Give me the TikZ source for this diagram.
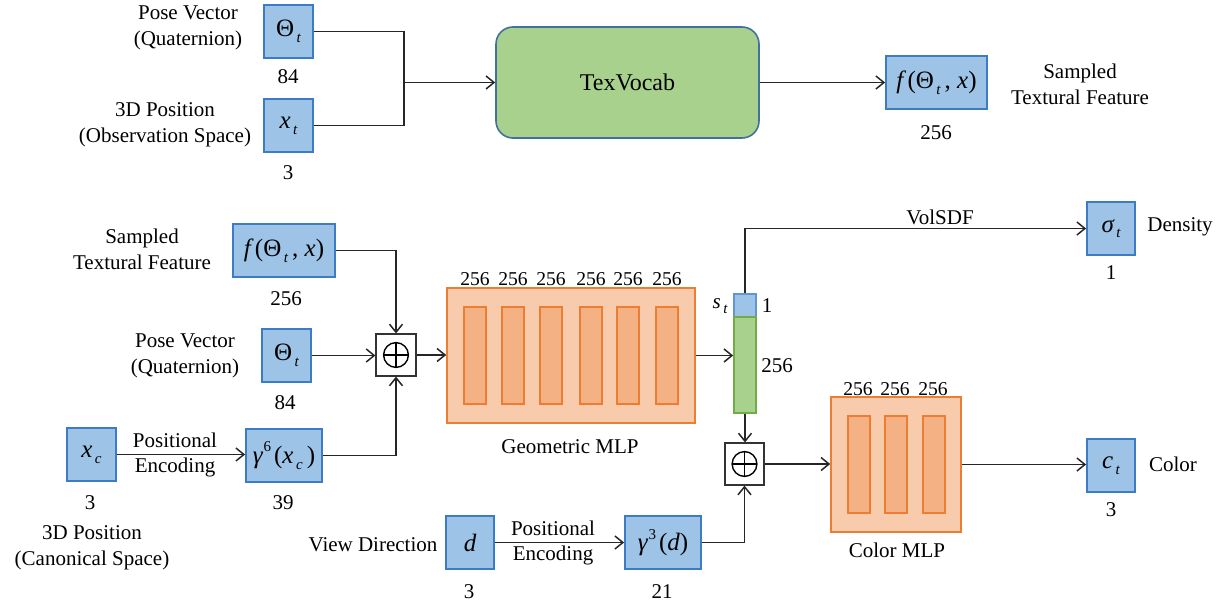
\documentclass[tikz,border=0pt]{standalone}
\usepackage{fontspec}
\setmainfont{Liberation Serif}
\usetikzlibrary{arrows.meta}
\definecolor{bfill}{HTML}{9DC3E6}
\definecolor{bdraw}{HTML}{3B7CC4}
\definecolor{gfill}{HTML}{A9D18E}
\definecolor{gdraw}{HTML}{70AD47}
\definecolor{ofill}{HTML}{F8CBAD}
\definecolor{obar}{HTML}{F4B183}
\definecolor{odraw}{HTML}{ED7D31}
\definecolor{tdraw}{HTML}{41719C}
\newcommand\lblfont{\fontsize{10.5}{13}\selectfont}
\newcommand\mfont{\fontsize{12.5}{14}\selectfont}
\newcommand\numfont{\fontsize{9.8}{11}\selectfont}
\newcommand\msub[1]{\raisebox{-0.5ex}{\fontsize{7.5}{8}\selectfont\itshape\,#1}}
\newcommand\msup[1]{\raisebox{1.0ex}{\fontsize{7.5}{8}\selectfont\kern0.5pt #1\kern1.5pt}}
\tikzset{
  vbox/.style={draw=bdraw, fill=bfill, line width=0.9pt, inner sep=0pt, font=\mfont},
  lbl/.style={inner sep=0pt, align=center, font=\lblfont},
  num/.style={inner sep=0pt, font=\numfont},
  conn/.style={line width=0.75pt, draw=black!85},
  arr/.style={conn, -{Straight Barb[length=4pt,width=6.5pt]}},
  plusbox/.style={draw=black!80, fill=white, line width=0.6pt, inner sep=0pt, minimum width=20pt, minimum height=21pt},
  mlp/.style={draw=odraw, fill=ofill, line width=0.8pt, inner sep=0pt},
  mlpbar/.style={draw=odraw, fill=obar, line width=0.8pt},
}
\begin{document}
\begin{tikzpicture}[x=0.5pt, y=-0.5pt]
\useasboundingbox (0,0) rectangle (1225,605);

% ---------- top section ----------
\node[vbox, minimum width=24.5pt, minimum height=26.5pt] (th1) at (288.5,31.5) {Θ\msub{t}};
\node[vbox, minimum width=24.5pt, minimum height=26.5pt] (xt) at (288.5,125.5) {\itshape x\msub{t}};
\node[lbl] (l1) at (188,28) {Pose Vector\\(Quaternion)};
\node[lbl] (l2) at (165,125) {3D Position\\(Observation Space)};
\node[lbl] (n1) at (288,77) {84};
\node[lbl] (n2) at (288,173) {3};
\node[draw=tdraw, fill=gfill, line width=0.8pt, rounded corners=8.5pt, minimum width=131.5pt, minimum height=55.5pt, font=\fontsize{12}{14}\selectfont] (tex) at (627.5,82.5) {TexVocab};
\node[vbox, minimum width=50.5pt, minimum height=26.5pt] (ftop) at (936.5,82.5) {\itshape f\,\upshape(Θ\msub{t}\,, \itshape x\upshape)};
\node[lbl] (n3) at (936,133) {256};
\node[lbl] (l3) at (1080,84) {Sampled\\Textural Feature};
\coordinate (jn) at (404,82.5);
\draw[conn] (th1.east) -| (jn);
\draw[conn] (xt.east) -| (jn);
\draw[arr] (jn) -- (tex.west);
\draw[arr] (tex.east) -- (ftop.west);

% ---------- bottom left ----------
\node[vbox, minimum width=51pt, minimum height=26.5pt] (fbot) at (284,250.5) {\itshape f\,\upshape(Θ\msub{t}\,, \itshape x\upshape)};
\node[lbl] (l4) at (142,249) {Sampled\\Textural Feature};
\node[lbl] (n4) at (286,299) {256};
\node[vbox, minimum width=24.5pt, minimum height=26.5pt] (th2) at (286.5,355.5) {Θ\msub{t}};
\node[lbl] (l5) at (185,356) {Pose Vector\\(Quaternion)};
\node[lbl] (n5) at (285,403) {84};
\node[vbox, minimum width=24.5pt, minimum height=26.5pt] (xc) at (91.5,454.5) {\itshape x\msub{c}};
\node[vbox, minimum width=38pt, minimum height=26.5pt] (g6) at (284,455.5) {\itshape γ\upshape\msup{6}(\itshape x\msub{c}\,\upshape)};
\node[lbl] (n6) at (90,503) {3};
\node[lbl] (n7) at (283,503) {39};
\node[lbl] (l6) at (92,548) {3D Position\\(Canonical Space)};
\node[lbl] (pe1) at (175,440) {Positional};
\node[lbl] (en1) at (175,467) {Encoding};
\node[plusbox] (op1) at (396,355) {};
\draw[line width=0.7pt] (op1.center) circle (6.2pt);
\draw[line width=0.7pt] ([xshift=-6.2pt]op1.center) -- ([xshift=6.2pt]op1.center);
\draw[line width=0.7pt] ([yshift=-6.2pt]op1.center) -- ([yshift=6.2pt]op1.center);
\draw[arr] (xc.east) -- (xc.east -| g6.west);
\draw[arr] (fbot.east) -| (op1.north);
\draw[arr] (th2.east) -- (th2.east -| op1.west);
\draw[arr] (g6.east) -| (op1.south);

% ---------- geometric MLP ----------
\node[mlp, minimum width=124pt, minimum height=67.5pt] (geo) at (571,355.5) {};
\foreach \x [count=\i] in {464,502,540,580,617,656}{
  \draw[mlpbar] (\x,307) rectangle ++(22,97);
  \node[num] (gl\i) at (\x+11,279) {256};
}
\node[lbl] (geol) at (570,447) {Geometric MLP};
\draw[arr] (op1.east) -- (op1.east -| geo.west);

% ---------- vector ----------
\node[draw=bdraw!80, fill=bfill, line width=0.8pt, inner sep=0pt, minimum width=11pt, minimum height=11.5pt] (vb) at (745,305.5) {};
\node[draw=gdraw, fill=gfill, line width=0.8pt, inner sep=0pt, minimum width=11pt, minimum height=48pt] (vg) at (745,365) {};
\node[lbl] (st) at (720,306) {\itshape s\msub{t}};
\node[lbl] (v1) at (767,306) {1};
\node[lbl] (v2) at (777,366) {256};
\draw[arr] (geo.east) -- (geo.east -| vg.west);

% ---------- density ----------
\node[vbox, minimum width=24pt, minimum height=26.5pt] (sig) at (1111,228.5) {\itshape σ\msub{t}};
\node[lbl] (n8) at (1111,273) {1};
\node[lbl] (dens) at (1180,227) {Density};
\draw[arr] (vb.north) |- (sig.west);
\node[lbl] (vol) at (940,217) {VolSDF};

% ---------- view direction ----------
\node[vbox, minimum width=24pt, minimum height=26.5pt] (d) at (470,542.5) {\itshape d};
\node[vbox, minimum width=38pt, minimum height=26.5pt] (g3) at (663,542.5) {\itshape γ\upshape\msup{3}(\itshape d\upshape)};
\node[lbl] (vd) at (373,545) {View Direction};
\node[lbl] (pe2) at (553,528) {Positional};
\node[lbl] (en2) at (553,555) {Encoding};
\node[lbl] (n9) at (469,592) {3};
\node[lbl] (n10) at (662,592) {21};
\draw[arr] (d.east) -- (d.east -| g3.west);

% ---------- color branch ----------
\node[plusbox, minimum width=19.5pt] (op2) at (744.5,464) {};
\draw[line width=0.7pt] (op2.center) circle (6.2pt);
\draw[line width=0.7pt] ([xshift=-6.2pt]op2.center) -- ([xshift=6.2pt]op2.center);
\draw[line width=0.7pt] ([yshift=-6.2pt]op2.center) -- ([yshift=6.2pt]op2.center);
\draw[arr] (vg.south) -- (vg.south |- op2.north);
\draw[arr] (g3.east) -| (op2.south);
\node[mlp, minimum width=65pt, minimum height=67.5pt] (col) at (896,464.5) {};
\foreach \x [count=\i] in {848,885,923}{
  \draw[mlpbar] (\x,416) rectangle ++(22,97);
  \node[num] (cl\i) at (\x+10,389) {256};
}
\node[lbl] (coll) at (897,550) {Color MLP};
\draw[arr] (op2.east) -- (op2.east -| col.west);
\node[vbox, minimum width=24pt, minimum height=26.5pt] (ct) at (1111,465.5) {\itshape c\msub{t}};
\node[lbl] (n11) at (1111,510) {3};
\node[lbl] (colr) at (1173,464) {Color};
\draw[arr] (col.east) -- (col.east -| ct.west);
\end{tikzpicture}
\end{document}
